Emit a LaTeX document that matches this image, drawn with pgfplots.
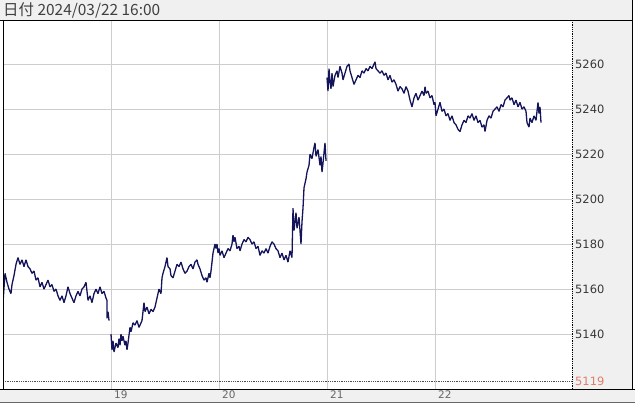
\documentclass[border=0pt]{standalone}
\usepackage{fontspec}
\setmainfont{DejaVu Sans}
\newfontfamily\jp{Noto Sans CJK JP}
\usepackage{pgfplots}
\pgfplotsset{compat=1.18}
\definecolor{panel}{RGB}{240,240,240}
\definecolor{gridc}{RGB}{205,205,205}
\definecolor{navyline}{RGB}{20,20,90}
\definecolor{lastc}{RGB}{225,125,105}
\definecolor{labc}{RGB}{55,55,55}

\pgfplotstableread{
x v
3 5166
3 5154
5 5167
7 5163
9 5160
11 5158
12 5162
14 5166
16 5171
18 5174
20 5171
22 5173
24 5170
26 5173
28 5170
30 5169
32 5167
34 5168
36 5164
38 5165
40 5161
42 5163
44 5160
46 5162
48 5164
50 5161
52 5162
54 5159
56 5160
58 5157
60 5155
62 5157
64 5154
66 5157
68 5161
70 5158
72 5156
74 5154
76 5157
78 5159
80 5157
82 5160
84 5161
86 5163
88 5155
90 5157
92 5154
94 5158
96 5160
98 5158
100 5161
102 5158
104 5159
106 5156
107 5155
107 5147
108 5150
109 5146
110 nan
111 5140
112 5133
113 5137
114 5132
116 5136
118 5134
119 5138
120 5135
121 5140
122 5137
123 5139
125 5135
126 5137
127 5133
128 5136
130 5143
131 5141
133 5145
135 5144
137 5146
139 5143
141 5145
142 5146
143 5150
144 5154
145 5150
147 5152
149 5149
151 5151
153 5150
155 5152
157 5156
159 5160
161 5158
162 5165
163 5167
165 5170
167 5174
168 5170
170 5169
171 5166
173 5165
175 5168
177 5171
179 5170
181 5172
183 5169
185 5167
187 5168
189 5170
191 5171
193 5169
195 5172
197 5173
198 5171
200 5169
202 5166
204 5164
206 5165
207 5163
209 5167
210 5165
211 5168
213 5176
214 5178
215 5180
216 5178
217 5180
218 5176
219 5178
220 5175
222 5177
224 5174
226 5176
228 5178
230 5177
232 5180
233 5184
234 5181
235 5183
237 5178
239 5179
240 5177
242 5180
244 5182
246 5181
248 5183
250 5182
252 5180
254 5181
256 5178
258 5179
260 5175
262 5177
264 5176
266 5178
268 5176
270 5179
272 5181
274 5180
276 5178
278 5177
280 5174
282 5176
284 5173
286 5175
288 5172
290 5177
292 5174
293 5196
294 5186
296 5194
297 5187
299 5192
301 5180
302 5190
303 5196
304 5205
306 5209
307 5212
309 5215
310 5220
312 5218
314 5223
315 5225
316 5219
318 5222
320 5215
321 5219
322 5212
323 5216
325 5225
326 5217
326.5 nan
327 5254
328 5248
329 5258
330 5252
331 5249
332 5256
333 5250
335 5255
337 5257
338 5254
340 5259
342 5256
343 5253
345 5256
347 5259
349 5260
350 5257
352 5254
354 5251
356 5253
358 5255
360 5254
362 5257
364 5256
366 5258
368 5257
370 5259
372 5258
374 5260
375 5261
376 5258
378 5257
380 5256
382 5257
384 5255
386 5256
388 5253
390 5255
392 5252
394 5253
396 5251
398 5248
400 5250
402 5249
404 5247
406 5250
408 5248
410 5244
412 5241
414 5245
416 5247
418 5244
420 5246
422 5248
424 5246
425 5250
426 5247
428 5248
430 5245
432 5246
434 5242
435 5243
436 5237
438 5240
440 5243
442 5239
444 5240
446 5237
448 5238
450 5235
452 5237
454 5234
456 5233
458 5231
460 5230
462 5233
464 5235
466 5234
468 5237
470 5236
472 5238
474 5235
476 5237
478 5234
480 5235
482 5232
484 5233
485 5230
487 5235
489 5237
491 5236
493 5239
495 5240
497 5241
499 5239
501 5242
503 5241
505 5244
507 5245
509 5246
510 5244
512 5245
514 5242
516 5244
518 5241
520 5243
522 5240
524 5241
526 5239
527 5234
529 5232
530 5236
532 5234
534 5237
536 5235
538 5243
539 5238
540 5241
541 5234
}\prices

\begin{document}
\begin{tikzpicture}
\useasboundingbox (0,0) rectangle (635bp,403bp);
% panels: header, right scale, bottom scale
\fill[panel] (0,383bp) rectangle (633bp,403bp);
\fill[panel] (572bp,14bp) rectangle (632bp,383bp);
\fill[panel] (0,1bp) rectangle (635bp,14bp);
\begin{axis}[
    at={(3bp,14bp)}, anchor=south west,
    width=569bp, height=369bp, scale only axis,
    xmin=3, xmax=572,
    ymin=5115.6, ymax=5279.6,
    axis line style={draw=none},
    major tick length=0pt,
    xtick={111,219,327,435},
    xticklabels={19,20,21,22},
    ytick={5140,5160,5180,5200,5220,5240,5260},
    yticklabel pos=right,
    grid=major,
    major grid style={gridc, line width=0.8bp},
    tick label style={font=\fontsize{11.5}{12}\selectfont},
    xticklabel style={anchor=north west, inner sep=0pt, xshift=3bp, yshift=-1.5bp,
        text=black!60, font=\fontsize{10.5}{11}\selectfont},
    yticklabel style={anchor=west, inner sep=0pt, xshift=3bp, text=labc,
        /pgf/number format/1000 sep={}},
    /pgf/number format/assume math mode=true,
    extra y ticks={5119},
    extra y tick style={grid=major,
        major grid style={densely dotted, black!70, line width=0.6bp},
        yticklabel style={text=lastc}},
    unbounded coords=jump,
    clip=true,
]
\addplot[navyline, line width=1.3bp, line join=bevel] table[x=x, y=v] {\prices};
\end{axis}
% frame lines
\draw[black, line width=0.8bp] (0,383bp) -- (633bp,383bp);
\draw[black, line width=0.8bp] (3bp,14bp) -- (3bp,383bp);
\draw[black, line width=0.8bp] (0,14bp) -- (635bp,14bp);
\draw[black, line width=0.8bp, densely dotted] (572bp,14bp) -- (572bp,383bp);
\draw[black, line width=0.8bp] (632bp,14bp) -- (632bp,403bp);
\draw[black!60, line width=0.6bp] (0,0.5bp) -- (635bp,0.5bp);
\node[anchor=west, inner sep=0pt, text=black!75] at (3bp,393bp)
    {\jp\fontsize{15.5}{17}\selectfont 日付 2024/03/22 16:00};
\end{tikzpicture}
\end{document}
